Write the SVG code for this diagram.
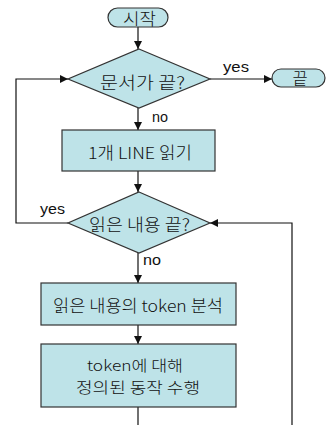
<svg xmlns="http://www.w3.org/2000/svg" width="328" height="425" viewBox="0 0 328 425">
<style>
.n{fill:#bee3e8;stroke:#333;stroke-width:1.2}
.t{font-family:"Noto Sans CJK KR","Liberation Sans",sans-serif;font-size:16.5px;font-weight:300;fill:#111;text-anchor:middle;dominant-baseline:central}
.s{font-size:15px}
.l{font-family:"Liberation Sans","Noto Sans CJK KR",sans-serif;font-size:14px;fill:#111}
.c{fill:none;stroke:#111;stroke-width:1.2}
</style>
<defs>
<marker id="a" viewBox="0 0 10 10" refX="10" refY="5" markerWidth="8" markerHeight="8" markerUnits="userSpaceOnUse" orient="auto">
<path d="M0,0L10,5L0,10Z" fill="#111"/>
</marker>
</defs>
<rect width="328" height="425" fill="#fff"/>
<g id="connectors">
<path class="c" d="M138,27V49" marker-end="url(#a)"/>
<path class="c" d="M210,79H272" marker-end="url(#a)"/>
<path class="c" d="M138,108V130" marker-end="url(#a)"/>
<path class="c" d="M138,171V192" marker-end="url(#a)"/>
<path class="c" d="M68,223H16V79H68" marker-end="url(#a)"/>
<path class="c" d="M292,425V223H210" marker-end="url(#a)"/>
<path class="c" d="M138,253V283" marker-end="url(#a)"/>
<path class="c" d="M138,325V344" marker-end="url(#a)"/>
<path class="c" d="M138,407V425"/>
<text class="l" x="223" y="72" textLength="26" lengthAdjust="spacingAndGlyphs">yes</text>
<text class="l" x="152" y="122" textLength="16" lengthAdjust="spacingAndGlyphs">no</text>
<text class="l" x="40" y="214" textLength="25" lengthAdjust="spacingAndGlyphs">yes</text>
<text class="l" x="143" y="265" textLength="18" lengthAdjust="spacingAndGlyphs">no</text>
</g>
<g id="start">
<rect class="n" x="108" y="8" width="60" height="19" rx="9.5"/>
<text class="t" x="139.5" y="18" textLength="33" lengthAdjust="spacingAndGlyphs">시작</text>
</g>
<g id="doc-end">
<polygon class="n" points="139,49 210,79 139,108 68,79"/>
<text class="t" x="142.5" y="82" textLength="85" lengthAdjust="spacingAndGlyphs">문서가 끝?</text>
</g>
<g id="end">
<rect class="n" x="272" y="69" width="53" height="18" rx="9"/>
<text class="t" x="300" y="78">끝</text>
</g>
<g id="read-line">
<rect class="n" x="62" y="130" width="153" height="41"/>
<text class="t" x="140" y="152" textLength="104" lengthAdjust="spacingAndGlyphs">1개 LINE 읽기</text>
</g>
<g id="content-end">
<polygon class="n" points="139,192 210,223 139,253 68,223"/>
<text class="t" x="139.5" y="223.5" textLength="101" lengthAdjust="spacingAndGlyphs">읽은 내용 끝?</text>
</g>
<g id="parse">
<rect class="n" x="41" y="283" width="195" height="42"/>
<text class="t" x="138" y="305" textLength="170" lengthAdjust="spacingAndGlyphs">읽은 내용의 token 분석</text>
</g>
<g id="action">
<rect class="n" x="41" y="344" width="195" height="63"/>
<text class="t s" x="135" y="364.5" textLength="96" lengthAdjust="spacingAndGlyphs">token에 대해</text>
<text class="t s" x="138" y="386.5" textLength="124" lengthAdjust="spacingAndGlyphs">정의된 동작 수행</text>
</g>
</svg>
